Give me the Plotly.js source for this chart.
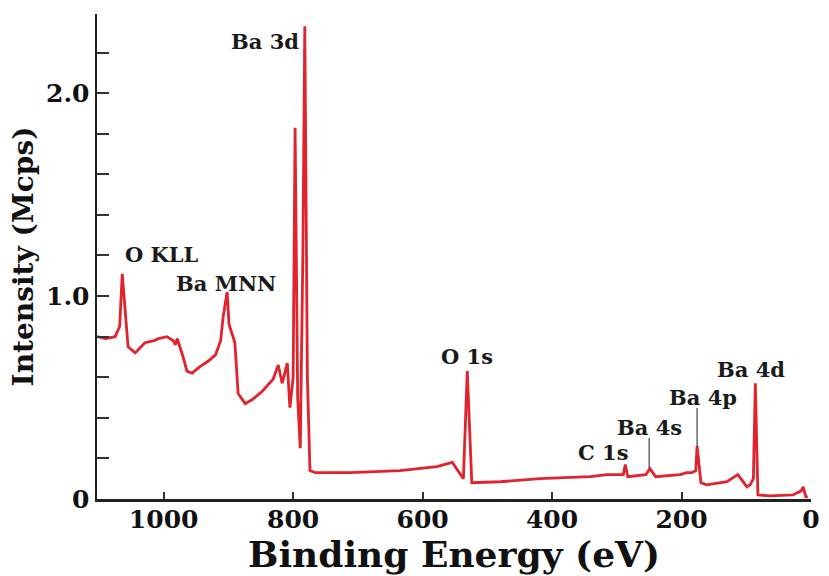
<!DOCTYPE html>
<html><head><meta charset="utf-8">
<script src="https://cdn.plot.ly/plotly-3.0.1.min.js"></script>
<style>html,body{margin:0;padding:0;background:#fff}#chart{width:829px;height:576px}</style>
</head><body><div id="chart"></div>
<script>
// Binding energy (eV) and intensity (Mcps)
const energy = [1103,1090,1075,1068,1064,1060,1055,1044,1029,1015,1008,995,985,982,979,970,964,956,945,931,920,912,908,902,899,893,890,885,874,863,848,831,823,817,809,805,800,797,793,789,785,782,778,774,766,712,635,578,554,537,531,524,480,419,341,315,290,287,283,255,249,240,202,192,184,178,176,170,161,130,113,99,94,89,86,82,63,28,15,12,8,5];
const intensity = [0.80,0.79,0.80,0.85,1.11,0.95,0.75,0.72,0.77,0.78,0.79,0.80,0.78,0.76,0.79,0.70,0.63,0.62,0.65,0.68,0.71,0.78,0.90,1.02,0.86,0.80,0.77,0.52,0.47,0.49,0.53,0.59,0.66,0.57,0.67,0.45,0.60,1.83,0.50,0.25,1.20,2.33,0.60,0.14,0.13,0.13,0.14,0.16,0.18,0.10,0.63,0.08,0.085,0.10,0.11,0.12,0.12,0.17,0.11,0.12,0.15,0.11,0.12,0.13,0.13,0.14,0.26,0.08,0.07,0.085,0.12,0.06,0.07,0.10,0.57,0.02,0.015,0.02,0.04,0.06,0.01,0.01];

// Peak labels
const peakLabels = ["Ba 3d","O KLL","Ba MNN","O 1s","C 1s","Ba 4s","Ba 4p","Ba 4d"];
const labelX = [843,1002,903,531,321,249,167,93];
const labelY = [2.256,1.207,1.064,0.704,0.227,0.350,0.502,0.640];

// Marker lines under Ba 4s and Ba 4p labels
const markerX = [250,250,null,176,176];
const markerY = [0.153,0.30,null,0.256,0.448];

const yTickVals = [0,0.2,0.4,0.6,0.8,1.0,1.2,1.4,1.6,1.8,2.0,2.2];
const yTickText = ["0","","","","","1.0","","","","","2.0",""];
const xTickVals = [1000,800,600,400,200,0];
const xTickText = ["1000","800","600","400","200","0"];

const serif = "DejaVu Serif";
const traces = [
  {x: energy, y: intensity, type:'scatter', mode:'lines',
   line:{color:'#e1232d', width:2.8}, hoverinfo:'skip'},
  {x: markerX, y: markerY, type:'scatter', mode:'lines',
   line:{color:'#3a3f5c', width:1.2}, hoverinfo:'skip'}
];
const annotations = peakLabels.map((t,i)=>({
  x: labelX[i], y: labelY[i], xref:'x', yref:'y', text: t, showarrow:false,
  xanchor:'center', yanchor:'middle',
  font:{family:serif, size:21, color:'#1a1a1a', weight:'bold'}
}));
const layout = {
  width:829, height:576,
  margin:{l:97, r:18, t:14, b:77},
  paper_bgcolor:'#fff', plot_bgcolor:'#fff',
  showlegend:false,
  xaxis:{range:[1103,0], tickvals:xTickVals, ticktext:xTickText,
    ticks:'inside', ticklen:7, tickwidth:2, tickcolor:'#333',
    showline:true, linecolor:'#222', linewidth:2.5, showgrid:false, zeroline:false,
    ticklabelstandoff:-4,
    tickfont:{family:serif, size:25, color:'#111', weight:'bold'},
    title:{text:'Binding Energy (eV)', standoff:0,
      font:{family:serif, size:36, color:'#111', weight:'bold'}}},
  yaxis:{range:[0,2.39], tickvals:yTickVals, ticktext:yTickText,
    ticks:'inside', ticklen:12, tickwidth:2, tickcolor:'#333',
    showline:true, linecolor:'#222', linewidth:2.5, showgrid:false, zeroline:false,
    tickfont:{family:serif, size:25, color:'#111', weight:'bold'},
    title:{text:'Intensity (Mcps)', standoff:4,
      font:{family:serif, size:28, color:'#111', weight:'bold'}}},
  annotations: annotations
};
Plotly.newPlot('chart', traces, layout, {staticPlot:true, displayModeBar:false});
</script></body></html>
